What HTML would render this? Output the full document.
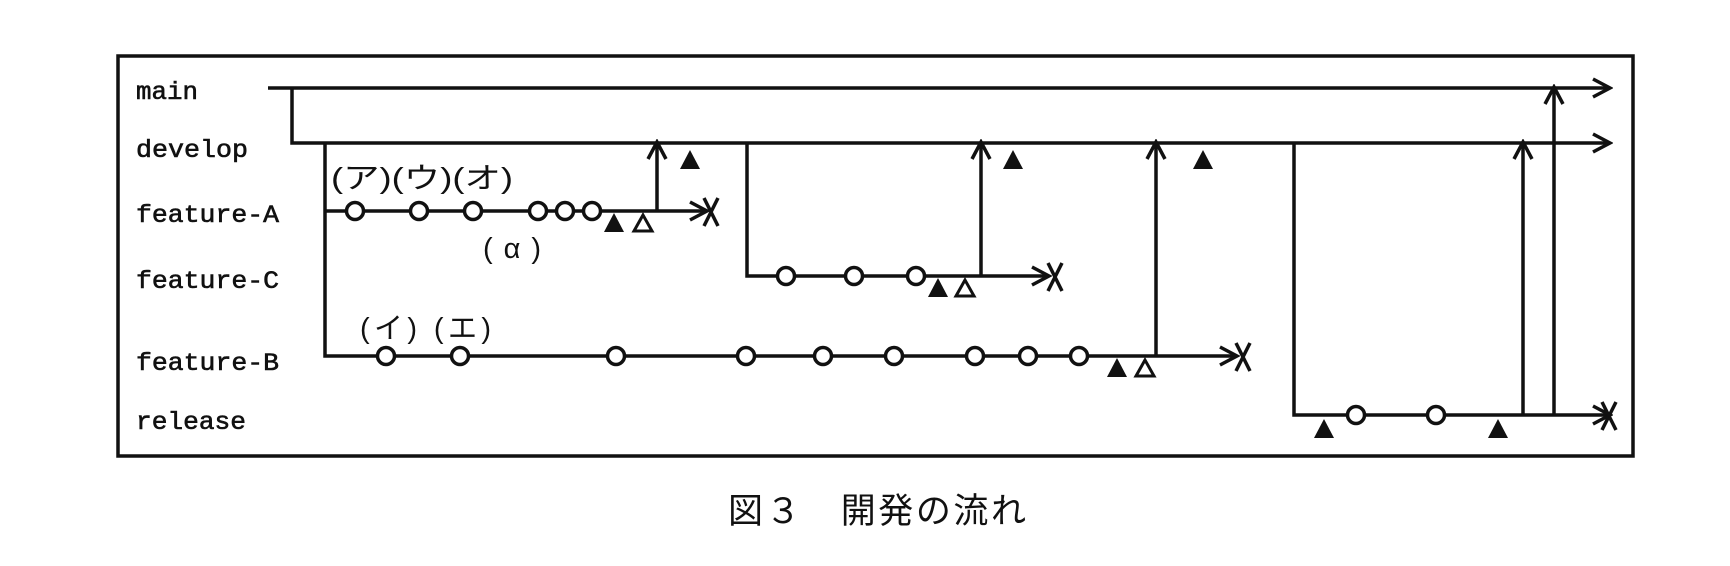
<!DOCTYPE html>
<html><head><meta charset="utf-8"><style>
html,body{margin:0;padding:0;background:#fff;}
svg{display:block;}
text{font-family:"Liberation Mono","Noto Sans CJK JP",monospace;fill:#111;}
.c{font-family:"Liberation Sans","Noto Sans CJK JP",sans-serif;}
</style></head><body>
<svg width="1730" height="566" viewBox="0 0 1730 566" xmlns="http://www.w3.org/2000/svg">
<defs>
<marker id="ar" markerWidth="22" markerHeight="22" refX="18" refY="11" orient="auto" markerUnits="userSpaceOnUse">
<path d="M2,2 L19,11 L2,20" fill="none" stroke="#111" stroke-width="3.5"/>
</marker>
</defs>
<rect x="118" y="56" width="1515" height="400" fill="none" stroke="#111" stroke-width="3.5"/>
<g font-size="25" stroke="#111" stroke-width="0.6">
<text x="136" y="99" textLength="62" lengthAdjust="spacingAndGlyphs">main</text>
<text x="136" y="157" textLength="112" lengthAdjust="spacingAndGlyphs">develop</text>
<text x="136" y="222" textLength="143" lengthAdjust="spacingAndGlyphs">feature-A</text>
<text x="136" y="288" textLength="143" lengthAdjust="spacingAndGlyphs">feature-C</text>
<text x="136" y="370" textLength="143" lengthAdjust="spacingAndGlyphs">feature-B</text>
<text x="136" y="429" textLength="110" lengthAdjust="spacingAndGlyphs">release</text>
</g>
<g stroke="#111" stroke-width="3.5" fill="none">
<line x1="268" y1="88" x2="1609" y2="88" marker-end="url(#ar)"/>
<polyline points="292,88 292,143 1609,143" marker-end="url(#ar)"/>
<polyline points="325,143 325,356 1236,356" marker-end="url(#ar)"/>
<line x1="325" y1="211" x2="706" y2="211" marker-end="url(#ar)"/>
<polyline points="747,143 747,276 1048,276" marker-end="url(#ar)"/>
<polyline points="1294,143 1294,415 1609,415" marker-end="url(#ar)"/>
<line x1="657" y1="211" x2="657" y2="143" marker-end="url(#ar)"/>
<line x1="981" y1="276" x2="981" y2="143" marker-end="url(#ar)"/>
<line x1="1156" y1="356" x2="1156" y2="143" marker-end="url(#ar)"/>
<line x1="1523" y1="415" x2="1523" y2="143" marker-end="url(#ar)"/>
<line x1="1554" y1="415" x2="1554" y2="88" marker-end="url(#ar)"/>
<path d="M704,198 L718,226 M718,198 L704,226"/>
<path d="M1048,263 L1062,291 M1062,263 L1048,291"/>
<path d="M1236,343 L1250,371 M1250,343 L1236,371"/>
<path d="M1602,402 L1616,430 M1616,402 L1602,430"/>
</g>
<g stroke="#111" stroke-width="3.5" fill="#fff">
<circle cx="355" cy="211" r="8.5"/><circle cx="419" cy="211" r="8.5"/><circle cx="473" cy="211" r="8.5"/>
<circle cx="538" cy="211" r="8.5"/><circle cx="565" cy="211" r="8.5"/><circle cx="592" cy="211" r="8.5"/>
<circle cx="786" cy="276" r="8.5"/><circle cx="854" cy="276" r="8.5"/><circle cx="916" cy="276" r="8.5"/>
<circle cx="386" cy="356" r="8.5"/><circle cx="460" cy="356" r="8.5"/><circle cx="616" cy="356" r="8.5"/>
<circle cx="746" cy="356" r="8.5"/><circle cx="823" cy="356" r="8.5"/><circle cx="894" cy="356" r="8.5"/>
<circle cx="975" cy="356" r="8.5"/><circle cx="1028" cy="356" r="8.5"/><circle cx="1079" cy="356" r="8.5"/>
<circle cx="1356" cy="415" r="8.5"/><circle cx="1436" cy="415" r="8.5"/>
</g>
<g fill="#111">
<polygon points="614,213 604,232 624,232"/>
<polygon points="690,150 680,169 700,169"/>
<polygon points="938,278 928,297 948,297"/>
<polygon points="1013,150 1003,169 1023,169"/>
<polygon points="1117,358 1107,377 1127,377"/>
<polygon points="1203,150 1193,169 1213,169"/>
<polygon points="1324,419 1314,438 1334,438"/>
<polygon points="1498,419 1488,438 1508,438"/>
</g>
<g fill="#fff" stroke="#111" stroke-width="3">
<polygon points="643,215 634,231 652,231"/>
<polygon points="965,280 956,296 974,296"/>
<polygon points="1145,360 1136,376 1154,376"/>
</g>
<g font-size="29" class="c">
<text x="331" y="188" class="c" textLength="182" lengthAdjust="spacingAndGlyphs">(ア)(ウ)(オ)</text>
<text x="483" y="258" class="c" textLength="58" lengthAdjust="spacing">( α )</text>
<text x="360" y="338" class="c" textLength="131" lengthAdjust="spacing">(イ) (エ)</text>
</g>
<text x="728" y="523" font-size="35" class="c" textLength="298" lengthAdjust="spacing">図３　開発の流れ</text>
</svg>
</body></html>
